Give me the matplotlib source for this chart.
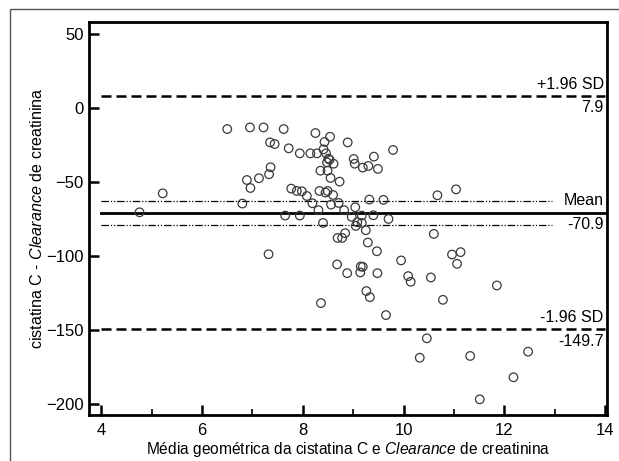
import matplotlib.pyplot as plt
from matplotlib.patches import Rectangle
from matplotlib.ticker import MultipleLocator

plt.rcParams['font.family'] = ['Liberation Sans', 'DejaVu Sans']
plt.rcParams['mathtext.fontset'] = 'custom'
plt.rcParams['mathtext.rm'] = 'Liberation Sans'
plt.rcParams['mathtext.it'] = 'Liberation Sans:italic'

# média geométrica (x) e diferença (y)
media = [4.76, 5.22, 6.50, 6.80, 6.89, 6.95, 6.96, 7.13, 7.22, 7.32,
         7.33, 7.35, 7.36, 7.44, 7.62, 7.65, 7.72, 7.77, 7.88, 7.94,
         7.94, 7.98, 8.08, 8.15, 8.19, 8.25, 8.28, 8.31, 8.33, 8.35,
         8.36, 8.40, 8.41, 8.43, 8.45, 8.46, 8.48, 8.49, 8.49, 8.51,
         8.53, 8.54, 8.55, 8.56, 8.60, 8.61, 8.68, 8.69, 8.71, 8.73,
         8.78, 8.82, 8.84, 8.88, 8.89, 8.97, 9.01, 9.03, 9.04, 9.05,
         9.08, 9.14, 9.15, 9.17, 9.17, 9.19, 9.19, 9.25, 9.26, 9.29,
         9.30, 9.32, 9.33, 9.41, 9.40, 9.47, 9.48, 9.49, 9.60, 9.65,
         9.70, 9.79, 9.95, 10.09, 10.14, 10.32, 10.46, 10.54, 10.60, 10.67,
         10.78, 10.96, 11.04, 11.06, 11.13, 11.32, 11.51, 11.85, 12.18, 12.47]
diferenca = [-70.6, -57.8, -14.4, -64.7, -48.8, -13.3, -54.2, -47.6, -13.3, -98.9,
             -44.9, -23.4, -40.2, -24.5, -14.4, -72.8, -27.4, -54.6, -56.2, -30.8,
             -72.8, -56.4, -59.6, -30.8, -64.5, -17.1, -30.8, -69.2, -56.2, -42.5,
             -131.9, -77.8, -28.1, -23.1, -57.3, -30.8, -36.9, -42.5, -56.2, -34.4,
             -35.1, -19.6, -47.4, -65.4, -58.9, -37.8, -105.8, -87.9, -64.3, -49.9,
             -87.9, -69.2, -84.7, -111.7, -23.4, -73.7, -34.6, -37.8, -67.2, -79.8,
             -77.3, -111.2, -107.2, -72.8, -77.8, -107.4, -40.4, -82.7, -123.8, -91.0,
             -39.3, -62.0, -127.9, -33.0, -72.6, -96.9, -111.7, -41.3, -62.2, -140.0,
             -75.1, -28.5, -103.1, -113.7, -117.5, -168.8, -155.7, -114.6, -85.2, -59.1,
             -129.7, -99.1, -55.1, -105.4, -97.5, -167.6, -196.9, -120.0, -182.0, -164.7]

media_dif = -70.9
lim_sup = 7.9
lim_inf = -149.7
ic_media = [-62.8, -79.0]

fig = plt.figure(figsize=(6.19, 4.61), dpi=100)
ax = fig.add_axes([0.144, 0.100, 0.837, 0.852])

# moldura externa (só aparecem as bordas de cima e da esquerda)
fig.add_artist(Rectangle((10 / 619, -0.01), 1.0, 1 - 9 / 461 + 0.01,
                         transform=fig.transFigure, fill=False,
                         edgecolor='#555555', linewidth=1.0))

ax.scatter(media, diferenca, s=38, facecolors='none', edgecolors='#3a3a3a',
           linewidths=0.9, zorder=3)

ax.plot([4, 14], [lim_sup, lim_sup], color='black', linestyle=(0, (4, 2)), linewidth=1.8)
ax.plot([4, 14], [lim_inf, lim_inf], color='black', linestyle=(0, (4, 2)), linewidth=1.8)
ax.plot([4, 14], [media_dif, media_dif], color='black', linewidth=2.0)
for v in ic_media:
    ax.plot([4, 12.94], [v, v], color='black', linestyle=(0, (6, 1.5, 1, 1.5, 1, 1.5)),
            linewidth=0.9)

kw = dict(ha='right', fontsize=11.5, color='black')
ax.text(13.97, lim_sup + 3, '+1.96 SD', va='bottom', **kw)
ax.text(13.97, lim_sup - 3, '7.9', va='top', **kw)
ax.text(13.97, media_dif + 3, 'Mean', va='bottom', **kw)
ax.text(13.97, media_dif - 3, '-70.9', va='top', **kw)
ax.text(13.97, lim_inf + 3, '-1.96 SD', va='bottom', **kw)
ax.text(13.97, lim_inf - 3, '-149.7', va='top', **kw)

ax.set_xlim(3.76, 14.04)
ax.set_ylim(-207.4, 57.8)
ax.set_xticks([4, 6, 8, 10, 12, 14])
ax.xaxis.set_minor_locator(MultipleLocator(1))
ax.set_yticks([50, 0, -50, -100, -150, -200])
ax.tick_params(axis='both', which='major', direction='in', length=7, width=1.8,
               labelsize=12)
ax.tick_params(axis='x', which='minor', direction='in', length=4, width=1.2)
ax.tick_params(axis='x', pad=6)
ax.tick_params(axis='y', pad=4)
for s in ax.spines.values():
    s.set_linewidth(2.0)

ax.set_xlabel(r'Média geométrica da cistatina C e $\it{Clearance}$ de creatinina',
              fontsize=11.2, labelpad=1)
ax.set_ylabel(r'cistatina C - $\it{Clearance}$ de creatinina', fontsize=11.6,
              labelpad=1)

fig.savefig('out.png', dpi=100)
